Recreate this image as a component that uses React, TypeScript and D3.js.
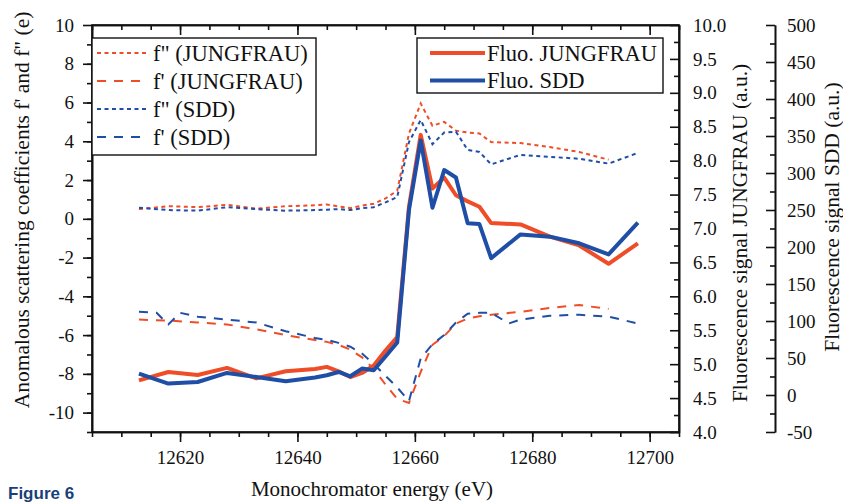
import React, { useEffect, useRef } from 'react';
import * as d3 from 'd3';

const width = 843;
const height = 502;
const margin = { top: 25, right: 164, bottom: 70, left: 92 };
const red = '#ef4d27';
const blue = '#1f4ea6';
const font = '"Liberation Serif", "Times New Roman", serif';

// energies (eV)
const energy = [12613, 12618, 12623, 12628, 12633, 12638, 12643, 12645, 12647, 12649, 12651, 12653, 12655, 12657,
  12659, 12661, 12663, 12665, 12667, 12669, 12671, 12673, 12678, 12683, 12688, 12693, 12698];

// fluorescence signals (right axes)
const fluoJungfrau = [4.76, 4.885, 4.84, 4.945, 4.79, 4.895, 4.93, 4.96, 4.895, 4.81, 4.87, 4.98, 5.2, 5.4,
  7.32, 8.38, 7.59, 7.75, 7.49, 7.4, 7.32, 7.08, 7.06, 6.88, 6.75, 6.48, 6.78];
const fluoSdd = [29, 15.5, 17.6, 29.8, 24.4, 18.6, 23.6, 26.7, 31.1, 25.3, 35.7, 33.4, 52, 71,
  250, 344, 253, 304, 294, 232, 231, 185, 217, 214, 205, 190, 233];

// f'' and f' (left axis)
const fppJungfrau = [0.5, 0.65, 0.6, 0.72, 0.52, 0.65, 0.7, 0.74, 0.64, 0.55, 0.68, 0.78, 1.05, 1.45,
  4.4, 5.95, 4.8, 5.0, 4.55, 4.45, 4.4, 3.96, 3.91, 3.7, 3.45, 3.05];
const fppSdd = [0.57, 0.45, 0.42, 0.6, 0.5, 0.42, 0.45, 0.47, 0.5, 0.45, 0.55, 0.6, 0.85, 1.12,
  3.96, 5.1, 3.85, 4.45, 4.5, 3.55, 3.45, 2.81, 3.3, 3.2, 3.1, 2.85, 3.4];
const fpJungfrau = [-5.2, -5.25, -5.35, -5.45, -5.7, -6.0, -6.25, -6.35, -6.5, -6.75, -7.15, -7.75, -8.55, -9.3,
  -9.5, -7.9, -6.5, -6.05, -5.4, -5.15, -5.03, -4.95, -4.8, -4.6, -4.45, -4.65];
const fpSddEnergy = [12613, 12616, 12618, 12620, 12623, 12628, 12633, 12638, 12643, 12645, 12647, 12649, 12651,
  12653, 12655, 12657, 12659, 12661, 12663, 12665, 12667, 12669, 12671, 12673, 12676, 12678, 12683, 12688, 12693, 12698];
const fpSdd = [-4.8, -4.85, -5.45, -4.85, -5.05, -5.2, -5.35, -5.8, -6.15, -6.25, -6.4, -6.6, -6.95,
  -7.5, -8.1, -8.7, -9.4, -7.2, -6.47, -6.0, -5.35, -4.9, -4.85, -4.85, -5.4, -5.2, -5.0, -4.95, -5.05, -5.4];

const xTicks = [12620, 12640, 12660, 12680, 12700];
const leftTicks = [-10, -8, -6, -4, -2, 0, 2, 4, 6, 8, 10];
const jTicks = d3.range(4, 10.01, 0.5);
const sTicks = d3.range(-50, 501, 50);

const x0 = margin.left;
const x1 = width - margin.right;
const y0 = height - margin.bottom;
const y1 = margin.top;

const xScale = d3.scaleLinear().domain([12605, 12705]).range([x0, x1]);
const yLeft = d3.scaleLinear().domain([-11, 10]).range([y0, y1]);
const yJ = d3.scaleLinear().domain([4, 10]).range([y0, y1]);
const yS = d3.scaleLinear().domain([-50, 500]).range([y0, y1]);

const pts = (xs: number[], ys: number[]) => ys.map((v, i) => [xs[i], v] as [number, number]);

const lineL = d3.line<[number, number]>().x(d => xScale(d[0])).y(d => yLeft(d[1]));
const lineJ = d3.line<[number, number]>().x(d => xScale(d[0])).y(d => yJ(d[1]));
const lineS = d3.line<[number, number]>().x(d => xScale(d[0])).y(d => yS(d[1]));

// plain hyphen for negatives, like the original figure
const plain = (d: any) => String(d);
const oneDec = (d: any) => (+d).toFixed(1);

const styleAxis = (g: any) => {
  g.selectAll('text').style('font-family', font).style('font-size', '19px').attr('fill', '#111');
  g.selectAll('line').attr('stroke', '#111').attr('stroke-width', 1.6);
  g.selectAll('path').attr('stroke', '#111').attr('stroke-width', 1.6);
};

export default function App() {
  const bottomRef = useRef<SVGGElement>(null);
  const topRef = useRef<SVGGElement>(null);
  const leftRef = useRef<SVGGElement>(null);
  const jRef = useRef<SVGGElement>(null);
  const sRef = useRef<SVGGElement>(null);

  useEffect(() => {
    const b = d3.select(bottomRef.current);
    b.selectAll('*').remove();
    b.append('g').call(d3.axisBottom(xScale).tickValues(d3.range(12605, 12706, 5)).tickSize(5).tickSizeOuter(0).tickFormat(() => ''));
    b.append('g').call(d3.axisBottom(xScale).tickValues(xTicks).tickSize(10).tickSizeOuter(0).tickPadding(9).tickFormat(plain));
    styleAxis(b);

    const t = d3.select(topRef.current);
    t.selectAll('*').remove();
    t.append('g').call(d3.axisTop(xScale).tickValues(d3.range(12605, 12706, 5)).tickSize(-5).tickSizeOuter(0).tickFormat(() => ''));
    t.append('g').call(d3.axisTop(xScale).tickValues(xTicks).tickSize(-10).tickSizeOuter(0).tickFormat(() => ''));
    styleAxis(t);

    const l = d3.select(leftRef.current);
    l.selectAll('*').remove();
    l.append('g').call(d3.axisLeft(yLeft).tickValues(d3.range(-11, 10, 1)).tickSize(5).tickSizeOuter(0).tickFormat(() => ''));
    l.append('g').call(d3.axisLeft(yLeft).tickValues(leftTicks).tickSize(9).tickSizeOuter(0).tickPadding(9).tickFormat(plain));
    styleAxis(l);

    const j = d3.select(jRef.current);
    j.selectAll('*').remove();
    j.append('g').call(d3.axisRight(yJ).tickValues(d3.range(4.25, 10, 0.5)).tickSize(-5).tickSizeOuter(0).tickFormat(() => ''));
    j.append('g').call(d3.axisRight(yJ).tickValues(jTicks).tickSize(-9).tickSizeOuter(0).tickPadding(14).tickFormat(oneDec));
    styleAxis(j);

    const s = d3.select(sRef.current);
    s.selectAll('*').remove();
    s.append('g').call(d3.axisRight(yS).tickValues(d3.range(-25, 500, 50)).tickSize(-5).tickSizeOuter(0).tickFormat(() => ''));
    s.append('g').call(d3.axisRight(yS).tickValues(sTicks).tickSize(-9).tickSizeOuter(0).tickPadding(12).tickFormat(plain));
    styleAxis(s);
  }, []);

  const fpJE = energy.slice(0, fpJungfrau.length);
  const fppJE = energy.slice(0, fppJungfrau.length);

  return (
    <svg width={width} height={height} style={{ position: 'absolute', left: 0, top: 0, background: '#fff' }}>
      <rect x={0} y={0} width={width} height={height} fill="#fff" />

      {/* f'' dotted, f' dashed */}
      <path d={lineL(pts(fppJE, fppJungfrau)) || ''} fill="none" stroke={red} strokeWidth={2} strokeDasharray="4,3.5" />
      <path d={lineL(pts(energy, fppSdd)) || ''} fill="none" stroke={blue} strokeWidth={2} strokeDasharray="4,3.5" />
      <path d={lineL(pts(fpJE, fpJungfrau)) || ''} fill="none" stroke={red} strokeWidth={2} strokeDasharray="9,8" />
      <path d={lineL(pts(fpSddEnergy, fpSdd)) || ''} fill="none" stroke={blue} strokeWidth={2} strokeDasharray="9,8" />

      {/* fluorescence */}
      <path d={lineJ(pts(energy, fluoJungfrau)) || ''} fill="none" stroke={red} strokeWidth={4} strokeLinejoin="round" />
      <path d={lineS(pts(energy, fluoSdd)) || ''} fill="none" stroke={blue} strokeWidth={4} strokeLinejoin="round" />

      {/* frame */}
      <rect x={x0} y={y1} width={x1 - x0} height={y0 - y1} fill="none" stroke="#111" strokeWidth={1.6} />

      <g ref={bottomRef} transform={`translate(0,${y0})`} />
      <g ref={topRef} transform={`translate(0,${y1})`} />
      <g ref={leftRef} transform={`translate(${x0},0)`} />
      <g ref={jRef} transform={`translate(${x1},0)`} />
      <g ref={sRef} transform={`translate(775,0)`} />

      {/* left legend */}
      <rect x={x0} y={38} width={224} height={117} fill="#fff" stroke="#111" strokeWidth={1.4} />
      {[
        { label: 'f" (JUNGFRAU)', color: red, dash: '4,3.5' },
        { label: "f' (JUNGFRAU)", color: red, dash: '9,8' },
        { label: 'f" (SDD)', color: blue, dash: '4,3.5' },
        { label: "f' (SDD)", color: blue, dash: '9,8' },
      ].map((d, i) => (
        <g key={i} transform={`translate(0,${53 + i * 28})`}>
          <line x1={97} x2={147} y1={0} y2={0} stroke={d.color} strokeWidth={2} strokeDasharray={d.dash} />
          <text x={153} y={7.5} fontFamily={font} fontSize={22.5} fill="#111">{d.label}</text>
        </g>
      ))}

      {/* right legend */}
      <rect x={417} y={38} width={246} height={55} fill="#fff" stroke="#111" strokeWidth={1.4} />
      {[
        { label: 'Fluo. JUNGFRAU', color: red },
        { label: 'Fluo. SDD', color: blue },
      ].map((d, i) => (
        <g key={i} transform={`translate(0,${53 + i * 27.5})`}>
          <line x1={430} x2={485} y1={0} y2={0} stroke={d.color} strokeWidth={4} />
          <text x={487} y={7.5} fontFamily={font} fontSize={22.5} fill="#111">{d.label}</text>
        </g>
      ))}

      {/* axis titles */}
      <text transform="translate(29,210) rotate(-90)" textAnchor="middle" fontFamily={font} fontSize={21.5} fill="#111">
        Anomalous scattering coefficients f' and f" (e)
      </text>
      <text transform="translate(747,233) rotate(-90)" textAnchor="middle" fontFamily={font} fontSize={21.5} fill="#111">
        Fluorescence signal JUNGFRAU (a.u.)
      </text>
      <text transform="translate(839,217) rotate(-90)" textAnchor="middle" fontFamily={font} fontSize={21.5} fill="#111">
        Fluorescence signal SDD (a.u.)
      </text>
      <text x={372} y={496} textAnchor="middle" fontFamily={font} fontSize={21} fill="#111">
        Monochromator energy (eV)
      </text>
      <text x={8} y={499} fontFamily='"Liberation Sans", Arial, sans-serif' fontWeight="bold" fontSize={17} fill="#1a3f7a">
        Figure 6
      </text>
    </svg>
  );
}
